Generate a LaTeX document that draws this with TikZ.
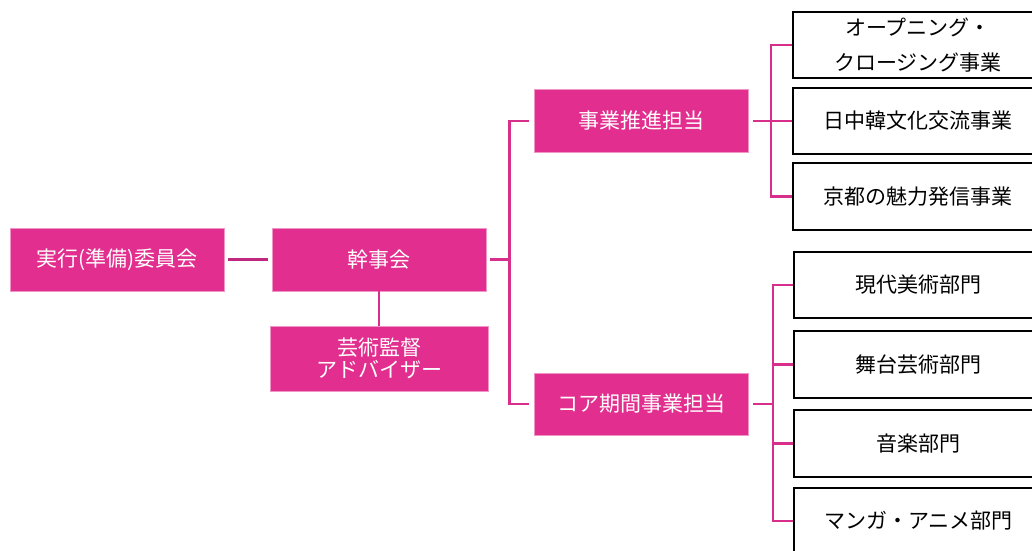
\documentclass[tikz,border=0pt]{standalone}
\usepackage{fontspec}
\newfontfamily\jp{Noto Sans CJK JP}
\definecolor{pinkfill}{HTML}{E22E8E}
\definecolor{pinkline}{HTML}{D92F8C}
\definecolor{darkline}{HTML}{C0287F}
\tikzset{
  pinkbox/.style={fill=pinkfill, draw=pinkfill!50!white, line width=0.6pt, text=white, minimum width=214pt, align=center, inner sep=0pt, font=\jp\fontsize{21}{22}\selectfont},
  unitbox/.style={draw=black, line width=2pt, fill=white, minimum width=250pt, minimum height=66pt, align=center, inner sep=0pt, font=\jp\fontsize{21}{22}\selectfont},
  conn/.style={draw=pinkline, line width=2.5pt},
}
\begin{document}
\begin{tikzpicture}[x=1pt,y=-1pt]
\clip (0,0) rectangle (1032,550);
\fill[white] (0,0) rectangle (1032,550);
% pink boxes
\node[pinkbox, minimum height=63pt] (exec) at (117,259.5) {実行(準備)委員会};
\node[pinkbox, minimum height=63pt] (kanji) at (379,259.5) {幹事会};
\node[pinkbox, minimum width=218pt, minimum height=65pt] (adv) at (379,358.5) {芸術監督\\アドバイザー};
\node[pinkbox, minimum height=63pt] (jigyo) at (641,121) {事業推進担当};
\node[pinkbox, minimum height=62pt] (core) at (641,404) {コア期間事業担当};
% white boxes
\node[unitbox] (b1) at (918,45) {オープニング・\\[13pt]クロージング事業};
\node[unitbox] (b2) at (918,121) {日中韓文化交流事業};
\node[unitbox, minimum height=67pt] (b3) at (917.5,196.5) {京都の魅力発信事業};
\node[unitbox] (c1) at (918.5,285) {現代美術部門};
\node[unitbox, minimum height=67pt] (c2) at (918.5,364.5) {舞台芸術部門};
\node[unitbox, minimum height=67pt] (c3) at (918.5,443.5) {音楽部門};
\node[unitbox] (c4) at (918.5,521) {マンガ・アニメ部門};
% trunk coordinates
\coordinate (ta) at (509.5,0);
\coordinate (tb) at (771,0);
\coordinate (tc) at (773,0);
% connectors
\draw[draw=darkline, line width=3pt, shorten <=4pt, shorten >=4pt] (exec.east) -- (kanji.east -| kanji.west);
\draw[conn] (kanji.south) -- (adv.north);
\draw[conn, shorten <=4pt, shorten >=5pt] (kanji.east) -- (kanji.east -| ta) |- (jigyo.west);
\draw[conn, shorten >=5pt] (kanji.east -| ta) |- (core.west);
\draw[conn, shorten <=5pt] (jigyo.east) -- (jigyo.east -| tb);
\draw[conn] (b1.west) -- (b1.west -| tb) -- (b3.west -| tb) -- (b3.west);
\draw[conn] (b2.west) -- (b2.west -| tb);
\draw[conn, shorten <=5pt] (core.east) -- (core.east -| tc);
\draw[conn] (c1.west) -- (c1.west -| tc) -- (c4.west -| tc) -- (c4.west);
\draw[conn] (c2.west) -- (c2.west -| tc);
\draw[conn] (c3.west) -- (c3.west -| tc);
\end{tikzpicture}
\end{document}
